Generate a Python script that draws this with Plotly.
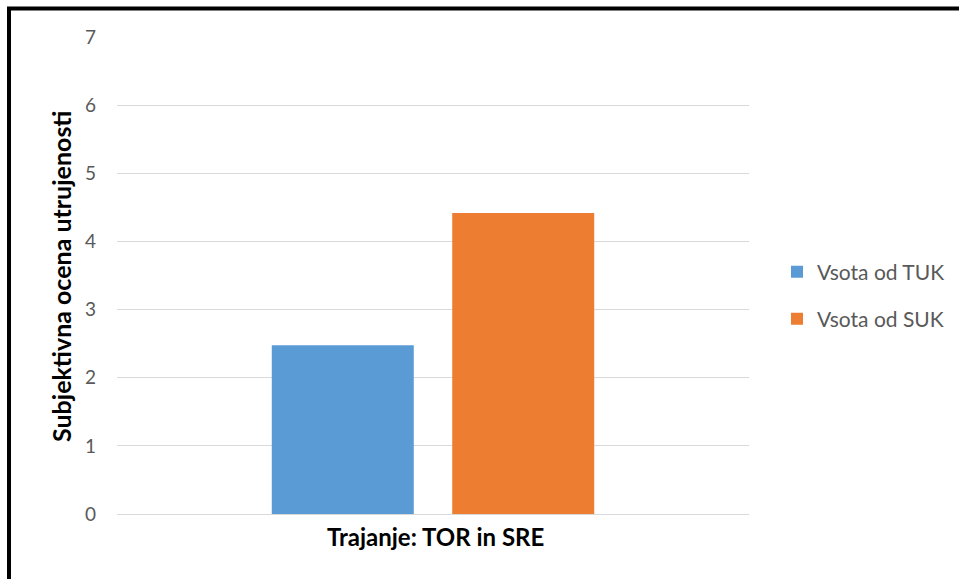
import plotly.graph_objects as go

categories = ["Trajanje: TOR in SRE"]
series_names = ["Vsota od TUK", "Vsota od SUK"]
tuk_values = [2.48]
suk_values = [4.42]
colors = ["#5B9BD5", "#ED7D31"]
y_ticks = [0, 1, 2, 3, 4, 5, 6, 7]

L, R, T, B = 117, 749, 37, 514
W, H = 959, 579

def px_x(p):
    return (p - L) / (R - L)

def px_y(p):
    return (B - p) / (B - T)

fig = go.Figure()
fig.add_trace(go.Bar(x=[""], y=tuk_values, name=series_names[0],
                     marker=dict(color=colors[0], line=dict(width=0)), legend="legend"))
fig.add_trace(go.Bar(x=[""], y=suk_values, name=series_names[1],
                     marker=dict(color=colors[1], line=dict(width=0)), legend="legend2"))

font_family = "Lato, Open Sans, sans-serif"

fig.update_layout(
    width=W, height=H,
    margin=dict(l=L, r=W - R, t=T, b=H - B, autoexpand=False),
    paper_bgcolor="white", plot_bgcolor="white",
    barmode="group", bargap=0.429, bargroupgap=0.213,
    font=dict(family=font_family, color="#595959", size=19),
    showlegend=True,
    legend=dict(x=px_x(777), y=px_y(272), xanchor="left", yanchor="middle",
                font=dict(size=21, color="#595959"), bgcolor="rgba(0,0,0,0)",
                itemwidth=30),
    legend2=dict(x=px_x(777), y=px_y(319), xanchor="left", yanchor="middle",
                 font=dict(size=21, color="#595959"), bgcolor="rgba(0,0,0,0)",
                 itemwidth=30),
    xaxis=dict(showticklabels=False, showline=True, linecolor="#D9D9D9", linewidth=1,
               range=[-0.5, 0.5], fixedrange=True),
    yaxis=dict(range=[0, 7.005], tickvals=y_ticks, showgrid=True, gridcolor="#D9D9D9",
               gridwidth=1, zeroline=False, ticks="", ticklabelstandoff=20,
               tickfont=dict(size=19, color="#595959")),
    annotations=[
        dict(text="<b>" + categories[0] + "</b>", x=px_x(435), y=px_y(536),
             xref="paper", yref="paper", showarrow=False,
             font=dict(size=24, color="black", family=font_family),
             xanchor="center", yanchor="middle"),
        dict(text="<b>Subjektivna ocena utrujenosti</b>", x=px_x(61), y=px_y(277),
             xref="paper", yref="paper", showarrow=False, textangle=-90,
             font=dict(size=25, color="black", family=font_family),
             xanchor="center", yanchor="middle"),
    ],
    shapes=[
        dict(type="line", xref="paper", yref="paper", x0=px_x(9), x1=px_x(9),
             y0=px_y(7), y1=px_y(585), line=dict(color="black", width=4)),
        dict(type="line", xref="paper", yref="paper", x0=px_x(7), x1=px_x(965),
             y0=px_y(8.5), y1=px_y(8.5), line=dict(color="black", width=4)),
    ],
)

fig.write_html("out.html")
